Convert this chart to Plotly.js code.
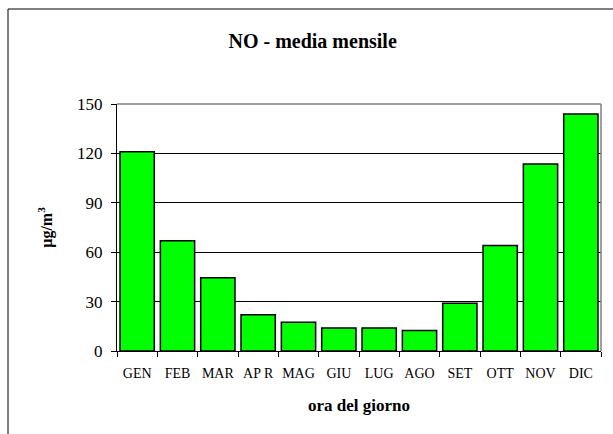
<!DOCTYPE html>
<html>
<head>
<meta charset="utf-8">
<script src="https://cdn.plot.ly/plotly-3.0.1.min.js"></script>
<style>html,body{margin:0;padding:0;background:#fff;}</style>
</head>
<body>
<div id="chart" style="width:613px;height:434px;"></div>
<script>
var months = ["GEN","FEB","MAR","APR","MAG","GIU","LUG","AGO","SET","OTT","NOV","DIC"];
var monthLabels = ["GEN","FEB","MAR","AP R","MAG","GIU","LUG","AGO","SET","OTT","NOV","DIC"];
var noValues = [121, 67, 44.5, 22, 17.5, 14, 14, 12.5, 29, 64, 113.5, 144];
var yTicks = [0, 30, 60, 90, 120, 150];

var serif = "'Liberation Serif', 'Times New Roman', Times, serif";

var trace = {
  type: "bar",
  x: months,
  y: noValues,
  marker: {color: "#00ff00", line: {color: "#000000", width: 1.5}},
  hoverinfo: "x+y"
};

var layout = {
  width: 613,
  height: 434,
  margin: {l: 117, r: 12, t: 104, b: 83},
  paper_bgcolor: "#ffffff",
  plot_bgcolor: "#ffffff",
  showlegend: false,
  bargap: 0.15,
  font: {family: serif, color: "#000000", size: 14},
  title: {
    text: "NO - media mensile",
    font: {family: serif, size: 20, color: "#000000", weight: "bold"},
    x: 0.51, xref: "container", xanchor: "center",
    y: 0.905, yref: "container", yanchor: "middle"
  },
  xaxis: {
    type: "category",
    tickmode: "array",
    tickvals: months,
    ticktext: monthLabels,
    tickson: "boundaries",
    tickangle: 0,
    ticks: "outside",
    ticklen: 5,
    tickcolor: "#000000",
    ticklabelstandoff: 9,
    tickfont: {family: serif, size: 14, color: "#000000"},
    showline: true,
    linecolor: "#000000",
    linewidth: 1,
    showgrid: false,
    zeroline: false,
    title: {
      text: "ora del giorno",
      font: {family: serif, size: 17, color: "#000000", weight: "bold"},
      standoff: 19
    },
    automargin: false,
    fixedrange: true
  },
  yaxis: {
    range: [0, 150],
    tickmode: "array",
    tickvals: yTicks,
    ticks: "outside",
    ticklen: 5,
    tickcolor: "#000000",
    ticklabelstandoff: 5,
    tickfont: {family: serif, size: 17, color: "#000000"},
    showline: true,
    linecolor: "#000000",
    linewidth: 1,
    showgrid: true,
    gridcolor: "#000000",
    gridwidth: 1,
    zeroline: false,
    title: {
      text: "µg/m<sup>3</sup>",
      font: {family: serif, size: 16, color: "#000000", weight: "bold"},
      standoff: 20
    },
    automargin: false,
    fixedrange: true
  },
  shapes: [
    {type: "line", xref: "paper", yref: "paper", x0: 0, x1: 1, y0: 1, y1: 1,
     line: {color: "#808080", width: 1.5}, layer: "above"},
    {type: "line", xref: "paper", yref: "paper", x0: 1, x1: 1, y0: 0, y1: 1,
     line: {color: "#808080", width: 1.5}, layer: "above"},
    {type: "rect", xref: "paper", yref: "paper", x0: -0.2252, x1: 1.5, y0: -1, y1: 1.3846,
     line: {color: "#000000", width: 1}, fillcolor: "rgba(0,0,0,0)", layer: "below"}
  ]
};

Plotly.newPlot("chart", [trace], layout, {displayModeBar: false, staticPlot: true});
</script>
</body>
</html>
